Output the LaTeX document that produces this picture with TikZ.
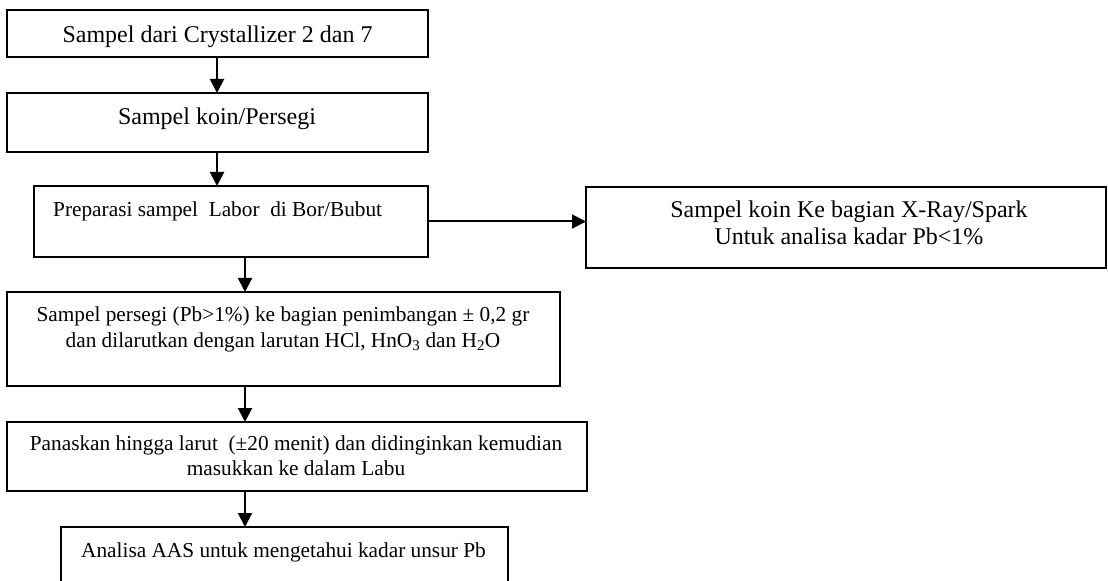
\documentclass[tikz,border=0pt]{standalone}
\usepackage{fontspec}
\setmainfont{Liberation Serif}
\usetikzlibrary{arrows.meta}
\begin{document}
\begin{tikzpicture}[x=1bp,y=-1bp,
  box/.style={draw=black, line width=2bp, inner sep=0pt, outer sep=0pt},
  bigtxt/.style={inner sep=0pt, font=\fontsize{24bp}{27.5bp}\selectfont, align=center},
  smalltxt/.style={inner sep=0pt, font=\fontsize{21.3bp}{25bp}\selectfont, align=center},
  flow/.style={line width=2bp, -{Triangle[length=14bp,width=14bp]}}]
\useasboundingbox (0,0) rectangle (1108,581);
\clip (0,0) rectangle (1108,581);
% boxes
\node[box, minimum width=421bp, minimum height=47bp] (b1) at (217.5,33.5) {};
\node[box, minimum width=421bp, minimum height=59bp] (b2) at (217.5,122.5) {};
\node[box, minimum width=394bp, minimum height=71bp] (b3) at (231,221.5) {};
\node[box, minimum width=520bp, minimum height=81bp] (b4) at (846,227.5) {};
\node[box, minimum width=553bp, minimum height=94bp] (b5) at (283.5,339) {};
\node[box, minimum width=580bp, minimum height=69bp] (b6) at (297,456.5) {};
\node[box, minimum width=447bp, minimum height=68bp] (b7) at (284.5,561) {};
% texts (multi-line nodes are placed by the baseline of their last line)
\node[bigtxt, anchor=base] (t1) at (217.5,43) {Sampel dari Crystallizer 2 dan 7};
\node[bigtxt, anchor=base] (t2) at (217,125) {Sampel koin/Persegi};
\node[smalltxt, anchor=base west] (t3) at (53,217) {Preparasi sampel\ \ Labor\ \ di Bor/Bubut};
\node[bigtxt, anchor=base] (t4) at (849,245) {Sampel koin Ke bagian X-Ray/Spark\\Untuk analisa kadar Pb<1\%};
\node[smalltxt, anchor=base] (t5) at (283,347) {Sampel persegi (Pb>1\%) ke bagian penimbangan ± 0,2 gr\\dan dilarutkan dengan larutan HCl, HnO\textsubscript{3} dan H\textsubscript{2}O};
\node[smalltxt, anchor=base] (t6) at (296,475) {Panaskan hingga larut\ \ (±20 menit) dan didinginkan kemudian\\masukkan ke dalam Labu};
\node[smalltxt, anchor=base] (t7) at (283.5,557) {Analisa AAS untuk mengetahui kadar unsur Pb};
% connector columns
\coordinate (c1) at (217,0);
\coordinate (c2) at (245,0);
\draw[flow] (b1.south -| c1) -- (b2.north -| c1);
\draw[flow] (b2.south -| c1) -- (b3.north -| c1);
\draw[flow] (b3.south -| c2) -- (b5.north -| c2);
\draw[flow] (b5.south -| c2) -- (b6.north -| c2);
\draw[flow] (b6.south -| c2) -- (b7.north -| c2);
\draw[flow] (b3.east) -- (b4.west |- b3.east);
\end{tikzpicture}
\end{document}
